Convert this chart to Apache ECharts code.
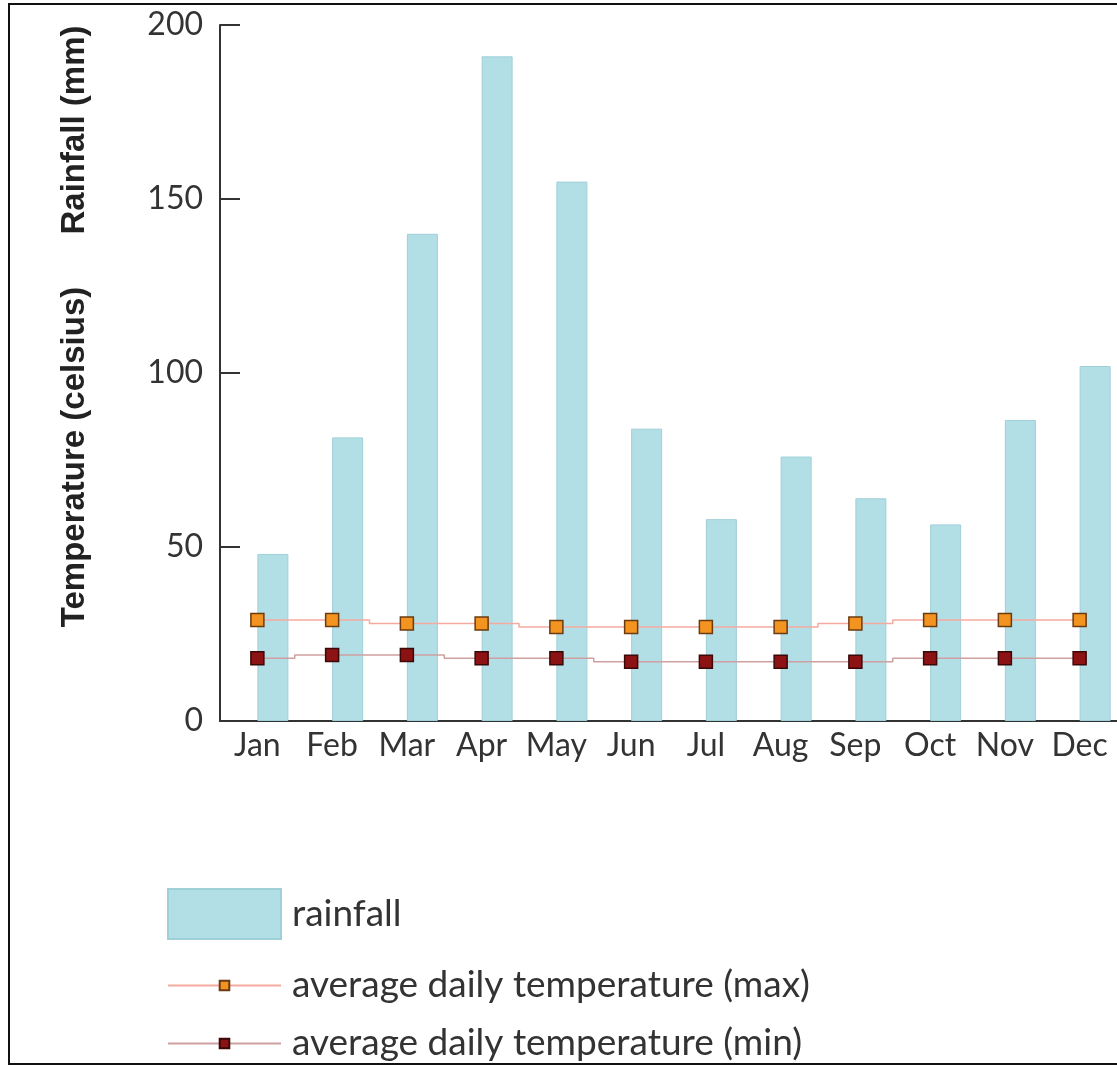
<!DOCTYPE html>
<html>
<head>
<meta charset="utf-8">
<script src="https://cdn.jsdelivr.net/npm/echarts@6/dist/echarts.min.js"></script>
<style>
html,body{margin:0;padding:0;background:#fff;overflow:hidden;}
#chart{width:1117px;height:1065px;}
</style>
</head>
<body>
<div id="chart"></div>
<script>
var months = ['Jan','Feb','Mar','Apr','May','Jun','Jul','Aug','Sep','Oct','Nov','Dec'];
var rainfall = [48, 81.5, 140, 191, 155, 84, 58, 76, 64, 56.5, 86.5, 102];
var tempMax = [29, 29, 28, 28, 27, 27, 27, 27, 28, 29, 29, 29];
var tempMin = [18, 19, 19, 18, 18, 17, 17, 17, 17, 18, 18, 18];
var yTicks = [0, 50, 100, 150, 200];

var FONT = 'Lato';
var TXT = '#333';
var chart = echarts.init(document.getElementById('chart'));
chart.setOption({
  backgroundColor: '#fff',
  animation: false,
  grid: { left: 220, top: 25, width: 901, height: 696, containLabel: false },
  xAxis: {
    type: 'category',
    data: months,
    boundaryGap: true,
    axisLine: { lineStyle: { color: '#333', width: 2 } },
    axisTick: { inside: true, length: 13, lineStyle: { color: '#333', width: 2 } },
    axisLabel: { color: TXT, fontFamily: FONT, fontSize: 32, margin: 9, interval: 0 }
  },
  yAxis: {
    type: 'value',
    min: yTicks[0],
    max: yTicks[yTicks.length - 1],
    interval: yTicks[1] - yTicks[0],
    axisLine: { show: true, lineStyle: { color: '#333', width: 2 } },
    axisTick: { show: true, inside: true, length: 20, lineStyle: { color: '#333', width: 2 } },
    splitLine: { show: false },
    axisLabel: { color: TXT, fontFamily: FONT, fontSize: 32, margin: 17 }
  },
  legend: [
    {
      data: [{ name: 'rainfall', icon: 'rect' }], left: 167, top: 888, padding: 0, orient: 'vertical',
      itemWidth: 113, itemHeight: 50, itemGap: 0,
      textStyle: { color: TXT, fontFamily: FONT, fontSize: 37, padding: [26, 0, 0, 6] }
    },
    {
      data: ['average daily temperature (max)'], left: 167, top: 967, padding: 0, orient: 'vertical',
      itemWidth: 113, itemHeight: 12,
      textStyle: { color: TXT, fontFamily: FONT, fontSize: 37, padding: [0, 0, 0, 6] }
    },
    {
      data: ['average daily temperature (min)'], left: 167, top: 1025, padding: 0, orient: 'vertical',
      itemWidth: 113, itemHeight: 12,
      textStyle: { color: TXT, fontFamily: FONT, fontSize: 37, padding: [0, 0, 0, 6] }
    }
  ],
  series: [
    {
      name: 'spacer', type: 'bar', data: [], barWidth: 31, barGap: '0%',
      silent: true, itemStyle: { color: 'transparent' }
    },
    {
      name: 'rainfall', type: 'bar', data: rainfall, barWidth: 31, barGap: '0%',
      itemStyle: { color: '#b2dfe6', borderColor: '#9fcfd7', borderWidth: 1 }
    },
    {
      name: 'average daily temperature (max)', type: 'line', data: tempMax,
      step: 'middle', symbol: 'rect', symbolSize: 13, z: 5,
      lineStyle: { color: '#f5aaa0', width: 1.5 },
      itemStyle: { color: '#f39420', borderColor: '#6b3a10', borderWidth: 1.5 }
    },
    {
      name: 'average daily temperature (min)', type: 'line', data: tempMin,
      step: 'middle', symbol: 'rect', symbolSize: 13, z: 5,
      lineStyle: { color: '#cfa0a0', width: 1.5 },
      itemStyle: { color: '#8c1214', borderColor: '#3b0808', borderWidth: 1.5 }
    }
  ],
  graphic: [
    {
      type: 'rect', z: 100, silent: true,
      shape: { x: 9, y: 4, width: 1200, height: 1060 },
      style: { fill: 'none', stroke: '#111', lineWidth: 2 }
    },
    {
      type: 'text', x: 75, y: 130, rotation: Math.PI / 2,
      style: { text: 'Rainfall (mm)', fill: '#222', font: 'bold 33px "Liberation Sans", Arial, sans-serif', align: 'center', verticalAlign: 'middle' }
    },
    {
      type: 'text', x: 75, y: 457, rotation: Math.PI / 2,
      style: { text: 'Temperature (celsius)', fill: '#222', font: 'bold 33px "Liberation Sans", Arial, sans-serif', align: 'center', verticalAlign: 'middle' }
    }
  ]
});
</script>
</body>
</html>
